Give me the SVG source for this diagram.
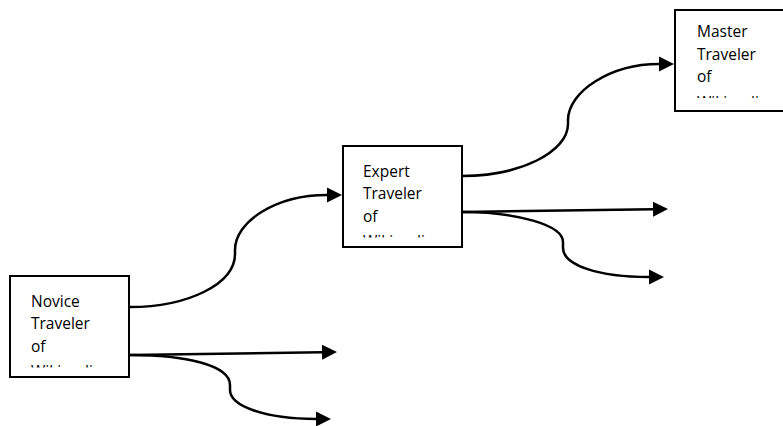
<svg xmlns="http://www.w3.org/2000/svg" width="783" height="426" viewBox="0 0 783 426">
<style>
.box{fill:#fff;stroke:#000;stroke-width:2}
.lbl{font-family:"Open Sans","Liberation Sans",sans-serif;font-size:15.5px;fill:#000}
.con{fill:none;stroke:#000;stroke-width:2.5;marker-end:url(#ah)}
</style>
<defs>
<marker id="ah" markerUnits="userSpaceOnUse" markerWidth="16" markerHeight="16" refX="0" refY="7.5" orient="auto" viewBox="0 0 16 15">
<path d="M0,0 L15,7.5 L0,15 z" fill="#000"/>
</marker>
<clipPath id="c1"><rect x="10" y="276" width="119" height="91.5"/></clipPath>
<clipPath id="c2"><rect x="343" y="146" width="119" height="91.5"/></clipPath>
<clipPath id="c3"><rect x="675" y="10" width="119" height="88"/></clipPath>
</defs>
<g id="connectors">
<path class="con" d="M130,307 C188,307 235,284 235,254 L235,250 C235,222 275,195 327,195"/>
<path class="con" d="M130,355 L322,352.3"/>
<path class="con" d="M130,355 C185,355 230,365 230,385 L230,390 C230,406 265,419 316,419"/>
<path class="con" d="M462,176 C520,176 568,152 568,124 L568,120 C568,92 610,64 659,64"/>
<path class="con" d="M462,212 L653,209.3"/>
<path class="con" d="M462,212 C517,212 563,225 563,242 L563,248 C563,265 598,277 649,277"/>
</g>
<g id="novice">
<rect class="box" x="10" y="276" width="119" height="101"/>
<g clip-path="url(#c1)">
<text class="lbl" x="31" y="306.5">Novice</text>
<text class="lbl" x="31" y="329">Traveler</text>
<text class="lbl" x="31" y="351.5">of</text>
<text class="lbl" x="31" y="377">Wikipedia</text>
</g>
</g>
<g id="expert">
<rect class="box" x="343" y="146" width="119" height="101"/>
<g clip-path="url(#c2)">
<text class="lbl" x="363" y="176.5">Expert</text>
<text class="lbl" x="363" y="199">Traveler</text>
<text class="lbl" x="363" y="221.5">of</text>
<text class="lbl" x="363" y="247">Wikipedia</text>
</g>
</g>
<g id="master">
<rect class="box" x="675" y="10" width="119" height="101"/>
<g clip-path="url(#c3)">
<text class="lbl" x="697" y="37">Master</text>
<text class="lbl" x="697" y="59.5">Traveler</text>
<text class="lbl" x="697" y="82">of</text>
<text class="lbl" x="697" y="107.5">Wikipedia</text>
</g>
</g>
</svg>
